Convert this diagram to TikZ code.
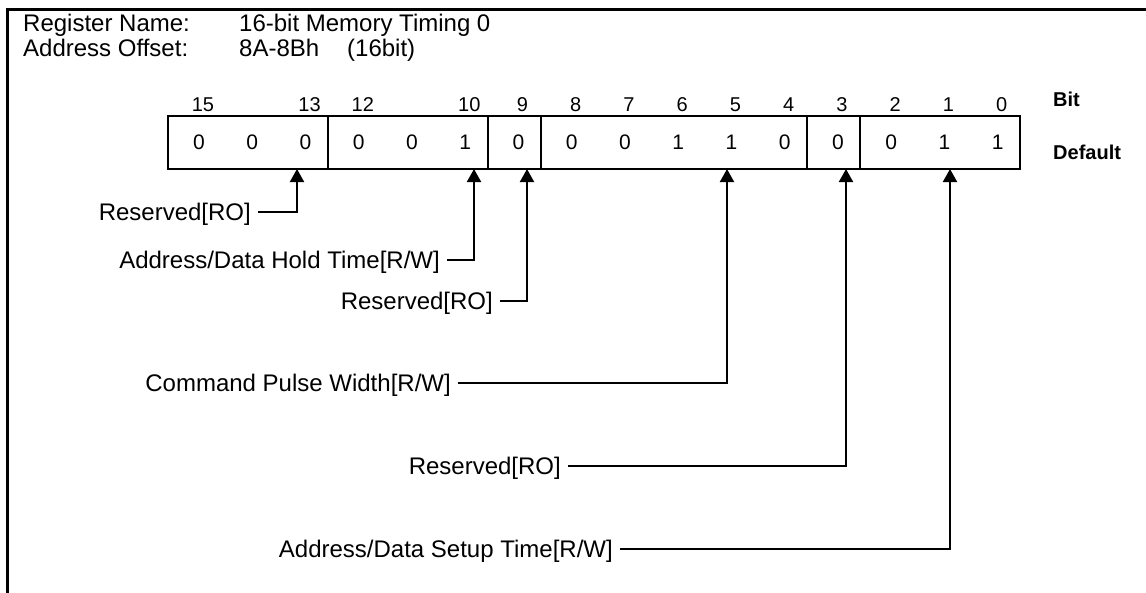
\documentclass[tikz,border=0pt]{standalone}
\usepackage{fontspec}
\setmainfont{Liberation Sans}
\usetikzlibrary{arrows.meta}
\begin{document}
\begin{tikzpicture}[x=1pt,y=-1pt,
  txt/.style={font=\fontsize{24}{28}\selectfont, inner sep=0pt},
  lbl/.style={txt, anchor=east, inner xsep=7pt, text height=17pt, text depth=0pt},
  bitn/.style={font=\fontsize{20}{24}\selectfont, inner sep=0pt},
  dig/.style={font=\fontsize{21}{25}\selectfont, inner sep=0pt},
  hdr/.style={font=\fontsize{20}{24}\selectfont\bfseries, inner sep=0pt, anchor=west},
  field/.style={draw, line width=2pt, minimum height=53pt, inner sep=0pt, anchor=north west},
  conn/.style={line width=2pt, -{Triangle[length=13pt,width=14pt]}}
]
\useasboundingbox (0,0) rectangle (1146,592);
% outer frame
\draw[line width=3pt] (7,600) -- (7,9) -- (1160,9);
% title text
\node[txt, anchor=base west] (rn) at (23,31) {Register Name:};
\node[txt, anchor=base west] (rv) at (239,31) {16-bit Memory Timing 0};
\node[txt, anchor=base west] (ao) at (23,56) {Address Offset:};
\node[txt, anchor=base west] (av) at (239,56) {8A-8Bh};
\node[txt, anchor=base west] (aw) at (347,56) {(16bit)};
% fields
\def\bw{53.25}
\node[field, minimum width=3*\bw] (f15) at (167,115) {};
\node[field, minimum width=3*\bw] (f12) at (167+3*\bw,115) {};
\node[field, minimum width=\bw] (f9) at (167+6*\bw,115) {};
\node[field, minimum width=5*\bw] (f8) at (167+7*\bw,115) {};
\node[field, minimum width=\bw] (f3) at (167+12*\bw,115) {};
\node[field, minimum width=3*\bw] (f2) at (167+13*\bw,115) {};
% bit numbers and defaults
\foreach \b/\d in {15/0,14/0,13/0,12/0,11/0,10/1,9/0,8/0,7/0,6/1,5/1,4/0,3/0,2/0,1/1,0/1}{
  \pgfmathsetmacro{\xl}{167+(15-\b)*\bw}
  \node[dig] (d\b) at (\xl+32,142.5) {\d};
}
\foreach \b in {15,13,12,10,9,8,7,6,5,4,3,2,1,0}{
  \pgfmathsetmacro{\xl}{167+(15-\b)*\bw}
  \node[bitn] (b\b) at (\xl+36,105) {\b};
}
\node[hdr] (hbit) at (1053,99) {Bit};
\node[hdr] (hdef) at (1053,152) {Default};
% arrow targets
\coordinate (t13) at (297,169);
\coordinate (t10) at (474,169);
\coordinate (t9) at (527,169);
\coordinate (t5) at (727,169);
\coordinate (t3) at (846,169);
\coordinate (t1) at (950,169);
% labels
\node[lbl] (l1) at (258,212) {Reserved[RO]};
\node[lbl] (l2) at (447,260) {Address/Data Hold Time[R/W]};
\node[lbl] (l3) at (500,301) {Reserved[RO]};
\node[lbl] (l4) at (458,383) {Command Pulse Width[R/W]};
\node[lbl] (l5) at (568,466) {Reserved[RO]};
\node[lbl] (l6) at (620,549) {Address/Data Setup Time[R/W]};
% connectors
\draw[conn] (l1.east) -| (t13);
\draw[conn] (l2.east) -| (t10);
\draw[conn] (l3.east) -| (t9);
\draw[conn] (l4.east) -| (t5);
\draw[conn] (l5.east) -| (t3);
\draw[conn] (l6.east) -| (t1);
\end{tikzpicture}
\end{document}
